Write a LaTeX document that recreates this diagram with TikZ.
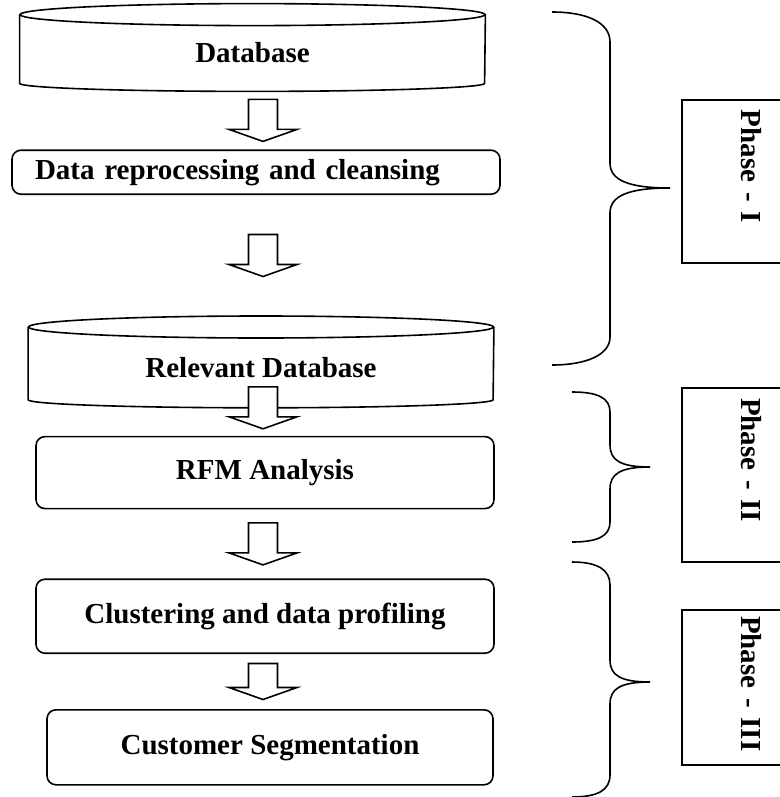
\documentclass[tikz,border=0pt]{standalone}
\usepackage{fontspec}
\setmainfont{Liberation Serif}
\usetikzlibrary{calc, positioning}
\tikzset{
    stepbox/.style={draw, rectangle, rounded corners=4.5pt, line width=0.8pt, inner sep=0pt, align=center},
    dbase/.style={rectangle, minimum width=232.5pt, inner sep=0pt},
    phasebox/.style={draw, rectangle, rotate=-90, line width=0.8pt, minimum height=69pt, inner xsep=5pt, align=left},
    fatarr/.pic={
        \draw[fill=white, line width=0.8pt] (-14.5,-#1) -- (14.5,-#1) -- (14.5,#1-12) -- (34,#1-12) -- (0,#1) -- (-34,#1-12) -- (-14.5,#1-12) -- cycle;
    },
}
\newcommand{\dbshape}[1]{%
    \draw[line width=0.8pt] (#1.north) ellipse [x radius=116.25pt, y radius=5.5pt];
    \draw[line width=0.8pt] (#1.north west) -- ([yshift=4pt]#1.south west) arc [start angle=180, end angle=360, x radius=116.25pt, y radius=4pt] -- (#1.north east);
}
\begin{document}
\begin{tikzpicture}[x=0.5pt, y=-0.5pt, font=\fontsize{14.5}{17}\selectfont\bfseries]
    \useasboundingbox (0,0) rectangle (780,797);
    \clip (0,0) rectangle (780,797);

    \node[dbase, minimum height=38pt] (db1) at (252.5,53) {Database};
    \node[stepbox, minimum width=244pt, minimum height=22pt, text width=221pt, inner xsep=11.5pt, align=left] (prep) [below=29pt of db1, xshift=1.75pt] {Data reprocessing and cleansing};
    \node[dbase, minimum height=40pt] (db2) [below=66pt of prep, xshift=2.5pt] {Relevant Database};
    \node[stepbox, minimum width=229pt, minimum height=36pt] (rfm) [below=14pt of db2, xshift=2pt] {RFM Analysis};
    \node[stepbox, minimum width=229pt, minimum height=37pt] (clus) [below=34.5pt of rfm] {Clustering and data profiling};
    \node[stepbox, minimum width=223pt, minimum height=37.5pt] (cust) [below=27.5pt of clus, xshift=2.5pt] {Customer Segmentation};

    \dbshape{db1}
    \dbshape{db2}

    \coordinate (ax) at (263,0);
    \coordinate (m1) at ($(db1.south)!.5!(prep.north)$);
    \coordinate (m2) at ($(prep.south)!.5!([yshift=5.5pt]db2.north)$);
    \coordinate (m4) at ($(rfm.south)!.5!(clus.north)$);
    \coordinate (m5) at ($(clus.south)!.5!(cust.north)$);
    \pic at (ax |- m1) {fatarr=21};
    \pic at (ax |- m2) {fatarr=21};
    \pic at (ax |- db2.south) {fatarr=21};
    \pic at (ax |- m4) {fatarr=21};
    \pic at (ax |- m5) {fatarr=18};

    % braces
    \draw[line width=0.8pt] (552,12) .. controls (586,12) and (610,22) .. (610,42) -- (610,163) .. controls (610,180) and (628,188) .. (670,188) .. controls (628,188) and (610,196) .. (610,213) -- (610,337) .. controls (610,355) and (586,365) .. (552,365);
    \draw[line width=0.8pt] (572,392) .. controls (598,392) and (610,398) .. (610,412) -- (610,445) .. controls (610,460) and (620,467) .. (650,467) .. controls (620,467) and (610,474) .. (610,489) -- (610,522) .. controls (610,536) and (598,542) .. (572,542);
    \draw[line width=0.8pt] (572,562) .. controls (598,562) and (610,570) .. (610,585) -- (610,660) .. controls (610,675) and (620,682) .. (650,682) .. controls (620,682) and (610,689) .. (610,704) -- (610,775) .. controls (610,790) and (598,797) .. (572,797);

    \node[phasebox, text width=71.5pt] (ph1) at (751,181.5) {Phase - I};
    \node[phasebox, text width=77pt] (ph2) at (751,475) {Phase - II};
    \node[phasebox, text width=71.5pt, inner xsep=3pt] (ph3) at (751,687.5) {\mbox{Phase - III}};
\end{tikzpicture}
\end{document}
